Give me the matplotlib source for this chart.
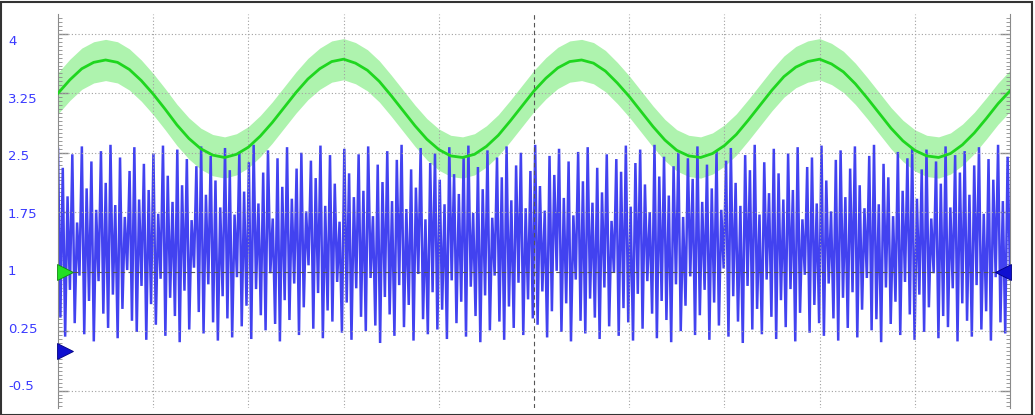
import numpy as np
import matplotlib
matplotlib.use("Agg")
import matplotlib.pyplot as plt
from matplotlib.patches import Rectangle
from matplotlib.transforms import ScaledTranslation

# y scale of the screen
tick_vals = [4, 3.25, 2.5, 1.75, 1, 0.25, -0.5]
tick_text = ["4", "3.25", "2.5", "1.75", "1", "0.25", "-0.5"]
x_divs = 10

# green trace (read every 1/8 division) and its envelope half width
green = [3.25, 3.42, 3.56, 3.64, 3.67, 3.64, 3.55, 3.41, 3.24, 3.05,
         2.85, 2.68, 2.55, 2.47, 2.44, 2.48, 2.57, 2.71, 2.88, 3.07,
         3.26, 3.43, 3.56, 3.65, 3.68, 3.63, 3.54, 3.40, 3.22, 3.03,
         2.84, 2.67, 2.54, 2.46, 2.44, 2.48, 2.58, 2.72, 2.90, 3.09,
         3.28, 3.44, 3.57, 3.65, 3.67, 3.63, 3.53, 3.38, 3.21, 3.02,
         2.83, 2.66, 2.53, 2.46, 2.44, 2.49, 2.59, 2.73, 2.91, 3.10,
         3.29, 3.46, 3.58, 3.65, 3.68, 3.62, 3.52, 3.37, 3.19, 3.00,
         2.81, 2.65, 2.53, 2.46, 2.44, 2.49, 2.60, 2.75, 2.93, 3.12,
         3.28]
green_spread = 0.26

# blue trace samples
blue = [2.55, 0.42, 2.31, 0.18, 1.95, 0.77, 2.48, 0.35, 1.62, 0.95, 2.58, 0.21, 2.05, 0.63, 2.39, 0.12, 1.78, 0.88, 2.52, 0.47,
        2.12, 0.29, 2.60, 0.71, 1.84, 0.16, 2.44, 0.53, 1.69, 1.02, 2.27, 0.38, 2.57, 0.24, 1.91, 0.82, 2.36, 0.14, 2.03, 0.59,
        2.49, 0.33, 1.73, 0.91, 2.59, 0.19, 2.21, 0.67, 1.88, 0.44, 2.54, 0.11, 2.09, 0.76, 2.42, 0.27, 1.65, 1.05, 2.33, 0.49,
        2.58, 0.22, 1.97, 0.84, 2.46, 0.36, 2.15, 0.13, 1.81, 0.69, 2.56, 0.41, 2.28, 0.17, 1.72, 0.93, 2.51, 0.31, 2.01, 0.57,
        2.38, 0.15, 2.60, 0.78, 1.86, 0.45, 2.25, 0.26, 2.53, 0.98, 1.67, 0.34, 2.43, 0.12, 2.07, 0.64, 2.57, 0.39, 1.92, 0.85,
        2.30, 0.20, 2.50, 0.55, 1.76, 1.08, 2.40, 0.28, 2.18, 0.73, 2.59, 0.16, 1.83, 0.51, 2.47, 0.37, 2.11, 0.87, 1.63, 0.23,
        2.55, 0.61, 2.24, 0.14, 1.94, 0.79, 2.48, 0.43, 2.02, 0.25, 2.58, 0.92, 1.70, 0.32, 2.35, 0.10, 2.13, 0.68, 2.52, 0.46,
        1.89, 0.19, 2.41, 0.83, 2.60, 0.30, 1.79, 0.58, 2.29, 0.13, 2.06, 0.97, 2.56, 0.40, 1.66, 0.21, 2.37, 0.74, 2.49, 0.27,
        2.16, 0.52, 1.85, 0.15, 2.57, 0.89, 2.23, 0.35, 1.98, 0.62, 2.45, 0.18, 2.59, 0.81, 1.74, 0.44, 2.32, 0.11, 2.04, 0.70,
        2.53, 0.26, 1.68, 0.95, 2.44, 0.37, 2.19, 0.14, 2.58, 0.56, 1.90, 0.29, 2.34, 0.86, 2.50, 0.20, 1.80, 0.65, 2.27, 0.41,
        2.60, 0.33, 2.08, 0.75, 1.77, 0.17, 2.46, 0.50, 2.22, 1.01, 2.55, 0.24, 1.93, 0.60, 2.39, 0.12, 1.71, 0.90, 2.51, 0.38,
        2.14, 0.22, 2.57, 0.66, 1.87, 0.42, 2.31, 0.15, 2.00, 0.80, 2.48, 0.31, 1.64, 0.99, 2.42, 0.19, 2.26, 0.54, 2.59, 0.36,
        1.82, 0.13, 2.37, 0.72, 2.54, 0.28, 2.10, 0.88, 1.75, 0.47, 2.60, 0.16, 2.20, 0.63, 2.45, 0.39, 1.96, 0.11, 2.33, 0.84,
        2.50, 0.25, 1.69, 0.57, 2.43, 0.94, 2.17, 0.20, 2.58, 0.45, 1.88, 0.77, 2.35, 0.14, 2.05, 0.61, 2.52, 0.32, 1.78, 1.04,
        2.40, 0.18, 2.56, 0.69, 2.12, 0.37, 1.83, 0.10, 2.47, 0.82, 2.28, 0.27, 2.60, 0.53, 1.72, 0.21, 2.38, 0.90, 1.99, 0.43,
        2.55, 0.15, 2.24, 0.64, 1.91, 0.30, 2.49, 0.78, 2.03, 0.12, 2.57, 0.48, 1.66, 0.96, 2.32, 0.23, 2.44, 0.58, 1.86, 0.35,
        2.59, 0.19, 2.15, 0.85, 1.76, 0.41, 2.41, 0.13, 2.53, 0.67, 1.94, 0.29, 2.30, 0.74, 2.58, 0.17, 2.09, 0.52, 1.80, 0.92,
        2.46, 0.26, 2.60, 0.40, 1.85, 0.11, 2.36, 0.80, 2.19, 0.34, 1.70, 0.62, 2.51, 0.20, 2.02, 0.87, 2.43, 0.46, 2.56, 0.14,
        1.92, 0.71, 2.29, 0.24, 2.54, 0.55, 1.67, 0.98, 2.39, 0.16, 2.11, 0.44, 2.58, 0.30, 1.81, 0.79, 2.47, 0.12, 2.25, 0.60,
        2.52, 0.38, 1.97, 0.18, 2.34, 0.83, 2.57, 0.27, 1.73, 0.50, 2.42, 0.13, 2.16, 0.93, 2.60, 0.36, 1.89, 0.22, 2.45, 1.00]

green_ref = 1.0
blue_ref = 0.0
trig_level = 1.0

fig = plt.figure(figsize=(10.35, 4.15), dpi=100)
ax = fig.add_axes([58 / 1035, 7 / 415, 952 / 1035, 394 / 415])
ax.set_xlim(0, x_divs)
ax.set_ylim(-0.72, 4.25)

gx = np.linspace(0, x_divs, len(green))
g = np.array(green)
ax.fill_between(gx, g - green_spread, g + green_spread, color="#aef3ae", lw=0, zorder=1)
bx = np.linspace(0, x_divs, len(blue))
ax.plot(bx, blue, color="#4242f0", lw=1.8, zorder=2, solid_joinstyle="miter")
ax.plot(gx, g, color="#1fd61f", lw=2.0, zorder=5)

# graticule
for t in tick_vals:
    if t == trig_level:
        ax.axhline(t, color="#555555", lw=0.8, ls=(0, (4, 3)), zorder=4)
    else:
        ax.axhline(t, color="#a0a0a0", lw=0.8, ls=(0, (1, 2)), zorder=4)
for k in range(1, x_divs):
    if k == x_divs // 2:
        ax.axvline(k, color="#555555", lw=0.8, ls=(0, (4, 3)), zorder=4)
    else:
        ax.axvline(k, color="#a0a0a0", lw=0.8, ls=(0, (1, 2)), zorder=4)

for s in ["top", "bottom"]:
    ax.spines[s].set_visible(False)
for s in ["left", "right"]:
    ax.spines[s].set_color("#8a8a8a")
    ax.spines[s].set_linewidth(0.8)
ax.set_xticks([])
ax.set_yticks(tick_vals)
ax.set_yticks(np.arange(-0.7, 4.25, 0.05), minor=True)
ax.tick_params(axis="y", which="both", direction="in", left=True, right=True,
               labelleft=False, color="#8a8a8a")
ax.tick_params(axis="y", which="major", length=7, width=1)
ax.tick_params(axis="y", which="minor", length=3, width=0.6)

# scale labels on the left margin
for t, s in zip(tick_vals, tick_text):
    ax.text(-50 / 95.2, 1 + (t - 1) * 0.966, s, color="#3a3aff", fontsize=9.5,
            ha="left", va="center", clip_on=False)

# level markers
right_shift = ax.transData + ScaledTranslation(7 / 100, 0, fig.dpi_scale_trans)
left_shift = ax.transData + ScaledTranslation(-7 / 100, 0, fig.dpi_scale_trans)
ax.plot([0], [green_ref], marker=">", ms=11, color="#22e022", mec="#118811",
        mew=0.6, transform=right_shift, clip_on=False, zorder=6)
ax.plot([0], [blue_ref], marker=">", ms=11, color="#1010d0", mec="#000080",
        mew=0.6, transform=right_shift, clip_on=False, zorder=6)
ax.plot([x_divs], [trig_level], marker="<", ms=11, color="#1010d0", mec="#000080",
        mew=0.6, transform=left_shift, clip_on=False, zorder=6)

# outer frame
fig.patches.append(Rectangle((0.001, 0.001), 0.996, 0.993, transform=fig.transFigure,
                             fill=False, ec="#333333", lw=1.5))

fig.savefig("out.png", dpi=100)
